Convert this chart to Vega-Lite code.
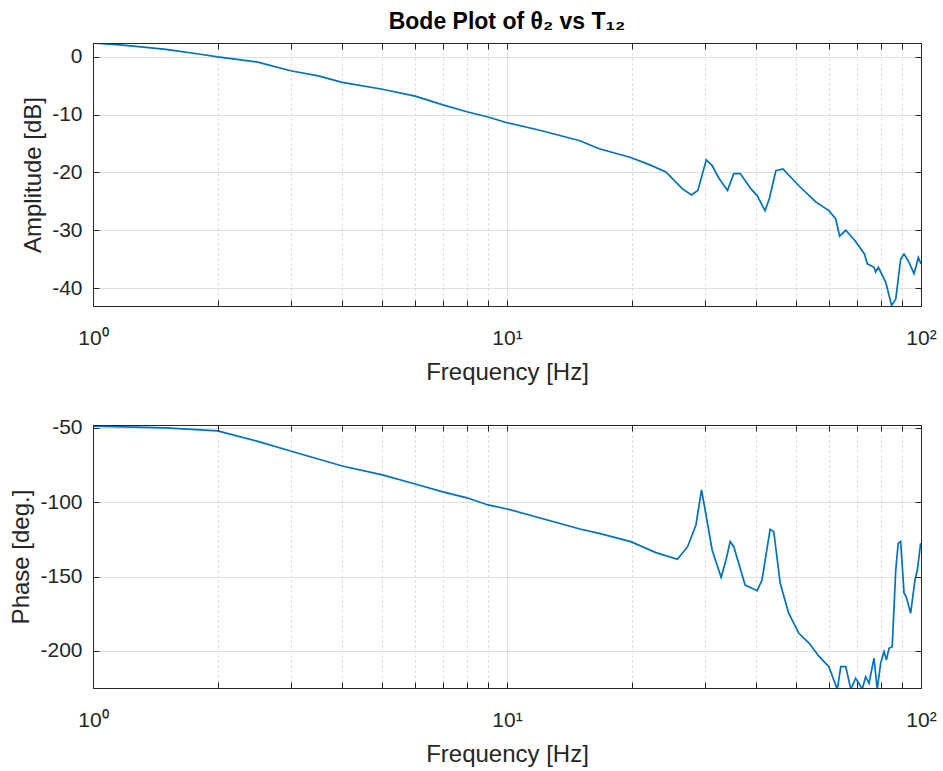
{
  "$schema": "https://vega.github.io/schema/vega-lite/v6.json",
  "padding": {"left": 9, "top": 10, "right": 5, "bottom": 0},
  "spacing": 31,
  "config": {
    "view": {"stroke": "#262626", "strokeWidth": 1},
    "font": "Liberation Sans",
    "axis": {
      "domainColor": "#262626",
      "tickColor": "#262626",
      "labelColor": "#262626",
      "titleColor": "#262626",
      "labelFont": "Liberation Sans",
      "titleFont": "Liberation Sans",
      "labelFontSize": 21,
      "titleFontSize": 24,
      "titleFontWeight": "normal",
      "tickSize": -6,
      "tickWidth": 1,
      "labelOverlap": false,
      "labelFlush": false
    }
  },
  "datasets": {
    "amp": [
      {"f": 1, "v": 2.4}, {"f": 1.2, "v": 2.0}, {"f": 1.5, "v": 1.3}, {"f": 1.8, "v": 0.5},
      {"f": 2, "v": 0.0}, {"f": 2.5, "v": -0.9}, {"f": 3, "v": -2.4}, {"f": 3.5, "v": -3.3},
      {"f": 4, "v": -4.4}, {"f": 5, "v": -5.6}, {"f": 6, "v": -6.8}, {"f": 7, "v": -8.3},
      {"f": 8, "v": -9.5}, {"f": 9, "v": -10.4}, {"f": 10, "v": -11.4}, {"f": 12, "v": -12.7},
      {"f": 15, "v": -14.5}, {"f": 16.7, "v": -15.9}, {"f": 19.9, "v": -17.4}, {"f": 22, "v": -18.6},
      {"f": 24.2, "v": -19.9}, {"f": 26.5, "v": -22.8}, {"f": 27.9, "v": -23.9}, {"f": 28.9, "v": -23.1},
      {"f": 30.3, "v": -17.8}, {"f": 31.3, "v": -18.8}, {"f": 32.5, "v": -21.0}, {"f": 34.1, "v": -23.1},
      {"f": 35.3, "v": -20.2}, {"f": 36.6, "v": -20.2}, {"f": 38.8, "v": -22.8}, {"f": 40.2, "v": -24.0},
      {"f": 42.0, "v": -26.6}, {"f": 43.0, "v": -24.6}, {"f": 44.6, "v": -19.7}, {"f": 46.4, "v": -19.4},
      {"f": 50.7, "v": -22.3}, {"f": 55.7, "v": -25.1}, {"f": 59.9, "v": -26.6}, {"f": 62.2, "v": -28.0},
      {"f": 63.6, "v": -31.0}, {"f": 65.8, "v": -30.0}, {"f": 69.3, "v": -31.8}, {"f": 73.0, "v": -34.1},
      {"f": 74.2, "v": -35.8}, {"f": 77.0, "v": -36.4}, {"f": 77.7, "v": -37.2}, {"f": 78.9, "v": -36.4},
      {"f": 82.2, "v": -39.0}, {"f": 84.9, "v": -43.0}, {"f": 86.9, "v": -41.9}, {"f": 89.3, "v": -35.0},
      {"f": 91.0, "v": -34.1}, {"f": 93.5, "v": -35.5}, {"f": 96.2, "v": -37.5}, {"f": 97.4, "v": -36.1},
      {"f": 98.5, "v": -34.7}, {"f": 100, "v": -35.8}
    ],
    "phase": [
      {"f": 1, "v": -48.7}, {"f": 1.5, "v": -50}, {"f": 2, "v": -52}, {"f": 2.5, "v": -59},
      {"f": 3, "v": -65.5}, {"f": 4, "v": -75.6}, {"f": 5, "v": -81.6}, {"f": 6, "v": -87.7},
      {"f": 7, "v": -93}, {"f": 8, "v": -97}, {"f": 9, "v": -101.8}, {"f": 10, "v": -104.5},
      {"f": 15, "v": -118}, {"f": 16.7, "v": -120.9}, {"f": 19.9, "v": -126.5}, {"f": 22.9, "v": -133.9},
      {"f": 25.8, "v": -138.4}, {"f": 27.3, "v": -129.9}, {"f": 28.6, "v": -115.3}, {"f": 29.5, "v": -91.7},
      {"f": 30.1, "v": -105.2}, {"f": 31.3, "v": -132.1}, {"f": 32.9, "v": -150.5}, {"f": 33.8, "v": -138.8},
      {"f": 34.6, "v": -126.5}, {"f": 35.3, "v": -129.9}, {"f": 37.6, "v": -155.7}, {"f": 40.2, "v": -159.5},
      {"f": 41.3, "v": -152.3}, {"f": 43.2, "v": -118.2}, {"f": 44.1, "v": -119.8}, {"f": 45.7, "v": -154.5},
      {"f": 47.9, "v": -174.7}, {"f": 50.7, "v": -188.2}, {"f": 53.7, "v": -194.9}, {"f": 56.8, "v": -203.9},
      {"f": 59.9, "v": -210.6}, {"f": 62.8, "v": -226}, {"f": 64.0, "v": -210.6}, {"f": 65.8, "v": -210.6},
      {"f": 67.7, "v": -226}, {"f": 69.5, "v": -218.4}, {"f": 70.8, "v": -221.8}, {"f": 72.1, "v": -226},
      {"f": 73.5, "v": -217.4}, {"f": 74.9, "v": -221.8}, {"f": 77.0, "v": -205}, {"f": 78.4, "v": -226},
      {"f": 79.9, "v": -208.3}, {"f": 81.4, "v": -200.5}, {"f": 82.5, "v": -206.1}, {"f": 83.7, "v": -198.3},
      {"f": 85.2, "v": -197.2}, {"f": 86.9, "v": -145.6}, {"f": 88.1, "v": -127.6}, {"f": 89.3, "v": -126.5},
      {"f": 91.0, "v": -161.2}, {"f": 92.1, "v": -163.5}, {"f": 94.4, "v": -174.7}, {"f": 96.7, "v": -152.3},
      {"f": 98.0, "v": -145.6}, {"f": 99.8, "v": -127.6}
    ]
  },
  "vconcat": [
    {
      "width": 828,
      "height": 263,
      "title": {"text": "Bode Plot of θ₂ vs T₁₂", "font": "Liberation Sans", "fontSize": 23, "fontWeight": "bold", "color": "#000000", "anchor": "middle", "frame": "group", "offset": 9},
      "data": {"name": "amp"},
      "layer": [
        {
          "mark": {"type": "line", "color": "#0072BD", "strokeWidth": 1.7, "clip": true},
          "encoding": {
            "x": {"field": "f", "type": "quantitative",
              "scale": {"type": "log", "domain": [1, 100], "nice": false},
              "axis": {"values": [1,2,3,4,5,6,7,8,9,10,20,30,40,50,60,70,80,90,100],
                "title": "Frequency [Hz]", "orient": "bottom",
                "labelExpr": "datum.value==1?'10⁰':datum.value==10?'10¹':datum.value==100?'10²':''",
                "grid": true,
                "gridColor": {"condition": {"test": "datum.value==1||datum.value==10||datum.value==100", "value": "#e0e0e0"}, "value": "#d2d2d2"},
                "gridDash": {"condition": {"test": "datum.value==1||datum.value==10||datum.value==100", "value": []}, "value": [2, 3]},
                "labelPadding": 27, "titlePadding": 12}},
            "y": {"field": "v", "type": "quantitative",
              "scale": {"domain": [-43.1, 2.4], "nice": false, "zero": false},
              "axis": {"values": [-40,-30,-20,-10,0], "title": "Amplitude [dB]", "orient": "left",
                "labelExpr": "datum.value + ''",
                "grid": true, "gridColor": "#e0e0e0", "labelPadding": 17, "titlePadding": 6}}
          }
        },
        {
          "mark": {"type": "line", "opacity": 0},
          "encoding": {
            "x": {"field": "f", "type": "quantitative",
              "scale": {"type": "log", "domain": [1, 100], "nice": false},
              "axis": {"values": [1,2,3,4,5,6,7,8,9,10,20,30,40,50,60,70,80,90,100], "orient": "top",
                "title": null, "labels": false, "grid": false, "zindex": 1, "domain": true}},
            "y": {"field": "v", "type": "quantitative",
              "scale": {"domain": [-43.1, 2.4], "nice": false, "zero": false},
              "axis": {"values": [-40,-30,-20,-10,0], "orient": "right", "title": null, "labels": false, "grid": false, "zindex": 1, "domain": true}}
          }
        }
      ],
      "resolve": {"axis": {"x": "independent", "y": "independent"}}
    },
    {
      "width": 828,
      "height": 263,
      "data": {"name": "phase"},
      "layer": [
        {
          "mark": {"type": "line", "color": "#0072BD", "strokeWidth": 1.7, "clip": true},
          "encoding": {
            "x": {"field": "f", "type": "quantitative",
              "scale": {"type": "log", "domain": [1, 100], "nice": false},
              "axis": {"values": [1,2,3,4,5,6,7,8,9,10,20,30,40,50,60,70,80,90,100],
                "title": "Frequency [Hz]", "orient": "bottom",
                "labelExpr": "datum.value==1?'10⁰':datum.value==10?'10¹':datum.value==100?'10²':''",
                "grid": true,
                "gridColor": {"condition": {"test": "datum.value==1||datum.value==10||datum.value==100", "value": "#e0e0e0"}, "value": "#d2d2d2"},
                "gridDash": {"condition": {"test": "datum.value==1||datum.value==10||datum.value==100", "value": []}, "value": [2, 3]},
                "labelPadding": 27, "titlePadding": 12}},
            "y": {"field": "v", "type": "quantitative",
              "scale": {"domain": [-225, -48], "nice": false, "zero": false},
              "axis": {"values": [-200,-150,-100,-50], "title": "Phase [deg.]", "orient": "left",
                "labelExpr": "datum.value + ''",
                "grid": true, "gridColor": "#e0e0e0", "labelPadding": 17, "titlePadding": 6}}
          }
        },
        {
          "mark": {"type": "line", "opacity": 0},
          "encoding": {
            "x": {"field": "f", "type": "quantitative",
              "scale": {"type": "log", "domain": [1, 100], "nice": false},
              "axis": {"values": [1,2,3,4,5,6,7,8,9,10,20,30,40,50,60,70,80,90,100], "orient": "top",
                "title": null, "labels": false, "grid": false, "zindex": 1, "domain": true}},
            "y": {"field": "v", "type": "quantitative",
              "scale": {"domain": [-225, -48], "nice": false, "zero": false},
              "axis": {"values": [-200,-150,-100,-50], "orient": "right", "title": null, "labels": false, "grid": false, "zindex": 1, "domain": true}}
          }
        }
      ],
      "resolve": {"axis": {"x": "independent", "y": "independent"}}
    }
  ]
}
